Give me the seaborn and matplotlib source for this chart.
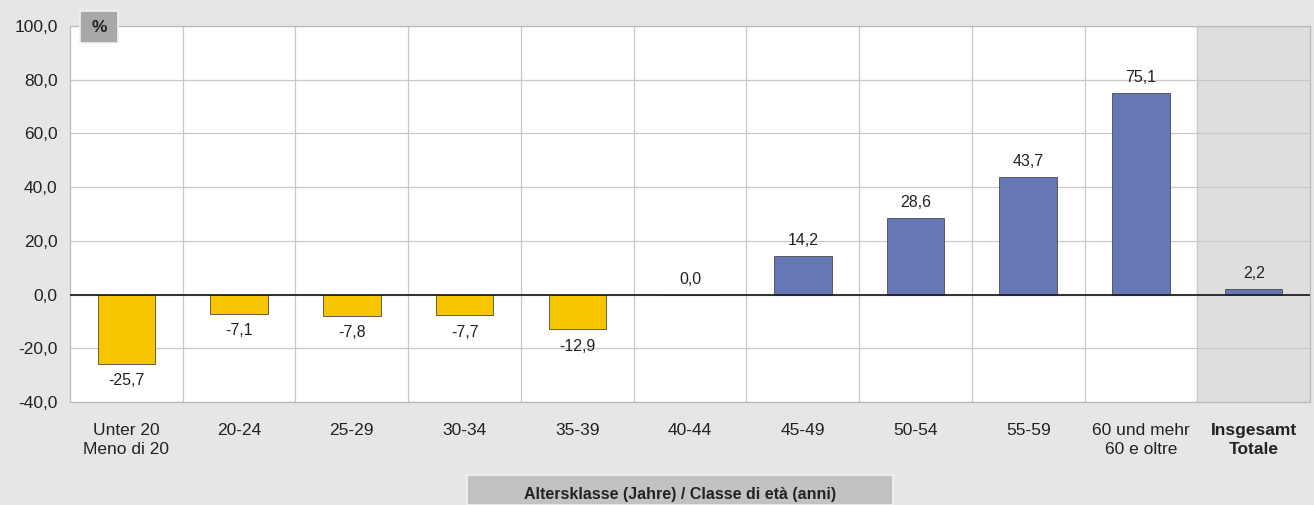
import matplotlib
matplotlib.use("Agg")
import matplotlib.pyplot as plt
import seaborn as sns
import pandas as pd
from matplotlib.patches import Rectangle

categories = ["Unter 20\nMeno di 20", "20-24", "25-29", "30-34", "35-39", "40-44",
              "45-49", "50-54", "55-59", "60 und mehr\n60 e oltre", "Insgesamt\nTotale"]
values = [-25.7, -7.1, -7.8, -7.7, -12.9, 0.0, 14.2, 28.6, 43.7, 75.1, 2.2]
yticks = [-40, -20, 0, 20, 40, 60, 80, 100]
xlabel = "Altersklasse (Jahre) / Classe di età (anni)"
unit = "%"

sns.set_style("white")
plt.rcParams['font.family'] = ['Liberation Sans', 'DejaVu Sans']

df = pd.DataFrame({"cat": categories, "val": values,
                   "sign": ["neg" if v < 0 else "pos" for v in values]})

fig = plt.figure(figsize=(13.14, 5.05), dpi=100, facecolor="#e6e6e6")
ax = fig.add_axes([0.0533, 0.204, 0.9437, 0.7445])
ax.set_facecolor("white")

# shaded total column
ax.axvspan(9.5, 10.5, color="#dedede", zorder=0)

sns.barplot(data=df, x="cat", y="val", hue="sign",
            palette={"neg": "#f7c400", "pos": "#6578b5"}, saturation=1,
            width=0.51, ax=ax, legend=False, zorder=3,
            edgecolor="#4a4a4a", linewidth=0.6)

ax.set_ylim(-40, 100)
ax.set_xlim(-0.5, 10.5)
ax.set_yticks(yticks)
ax.set_yticklabels([f"{t:.1f}".replace(".", ",") for t in yticks], fontsize=12.5, color="#222222")
ax.tick_params(axis="x", labelsize=12.5, colors="#222222", length=0, pad=15)
ax.tick_params(axis="y", length=0, pad=9)
for lab in ax.get_xticklabels():
    lab.set_linespacing(1.35)
    if lab.get_text().startswith("Insgesamt"):
        lab.set_fontweight("bold")

ax.set_xlabel("")
ax.set_ylabel("")

for y in yticks:
    ax.axhline(y, color="#c8c8c8", lw=0.9, zorder=1)
for x in range(10):
    ax.axvline(x + 0.5, color="#c8c8c8", lw=0.9, zorder=1)
ax.axhline(0, color="#222222", lw=1.3, zorder=4)

for s in ax.spines.values():
    s.set_color("#bbbbbb")
    s.set_linewidth(0.9)

for i, v in enumerate(values):
    txt = f"{v:.1f}".replace(".", ",")
    if v < 0:
        ax.text(i, v - 3.5, txt, ha="center", va="top", fontsize=11.5, color="#222222", zorder=5)
    else:
        ax.text(i, v + 3, txt, ha="center", va="bottom", fontsize=11.5, color="#222222", zorder=5)

# "%" box
fig.patches.append(Rectangle((80 / 1314, 1 - 43 / 505), 38 / 1314, 32 / 505,
                             transform=fig.transFigure, facecolor="#a8a8a8",
                             edgecolor="#f2f2f2", lw=1.2, zorder=10))
fig.text(99 / 1314, 1 - 28 / 505, unit, ha="center", va="center", fontsize=12.5,
         fontweight="bold", color="#222222", zorder=11)

# x label box
fig.patches.append(Rectangle((467 / 1314, 0), 426 / 1314, 30 / 505,
                             transform=fig.transFigure, facecolor="#c2c2c2",
                             edgecolor="#f2f2f2", lw=1.2, zorder=10))
fig.text(680 / 1314, 11 / 505, xlabel, ha="center", va="center", fontsize=11.5,
         fontweight="bold", color="#222222", zorder=11)

fig.savefig("out.png", dpi=100, facecolor=fig.get_facecolor())
